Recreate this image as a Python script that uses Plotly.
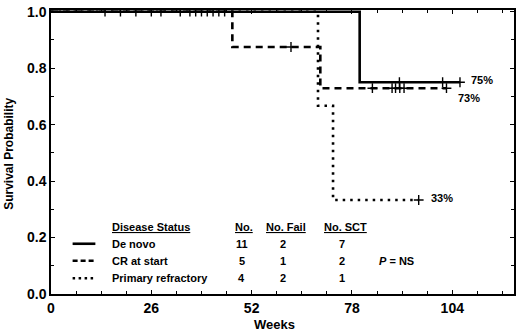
import numpy as np
import plotly.graph_objects as go

# ---- data ----
denovo_t = [0, 80, 106]
denovo_s = [1.0, 0.75, 0.75]
denovo_cens = [14, 18, 22, 26, 28.5, 33.5, 36, 37.5, 39, 40.5, 42, 43.5, 45, 90.3, 101.5, 106]

cr_t = [0, 47, 69.8, 102.5]
cr_s = [1.0, 0.875, 0.729, 0.729]
cr_cens = [62.2, 83.3, 88.4, 89.3, 90.4, 91.5, 102.5]

pr_t = [0, 69.2, 73.1, 95.3]
pr_s = [1.0, 0.667, 0.333, 0.333]
pr_cens = [95.3]

groups = ["De novo", "CR at start", "Primary refractory"]
n_pat = [11, 5, 4]
n_fail = [2, 1, 2]
n_sct = [7, 2, 1]
end_labels = ["75%", "73%", "33%"]

x_ticks = [0, 26, 52, 78, 104]
y_ticks = [0.0, 0.2, 0.4, 0.6, 0.8, 1.0]


def surv_at(ts, ss, c):
    i = np.searchsorted(np.array(ts), c, side="right") - 1
    return ss[max(i, 0)]


FONT = "Liberation Sans, Arial, sans-serif"
fig = go.Figure()

curves = [
    (denovo_t, denovo_s, denovo_cens, "solid"),
    (cr_t, cr_s, cr_cens, "7px,5px"),
    (pr_t, pr_s, pr_cens, "2.5px,5px"),
]
for ts, ss, cens, dash in curves:
    fig.add_trace(go.Scatter(x=ts, y=ss, mode="lines", line_shape="hv",
                             line=dict(color="black", width=2.6, dash=dash),
                             showlegend=False, hoverinfo="skip"))
    fig.add_trace(go.Scatter(x=cens, y=[surv_at(ts, ss, c) for c in cens], mode="markers",
                             marker=dict(symbol="cross-thin", size=7,
                                         line=dict(color="black", width=1.4)),
                             showlegend=False, hoverinfo="skip"))

# end percentages
end_pos = [(111.8, 0.757), (108.4, 0.695), (101.4, 0.339)]
for lab, (lx, ly) in zip(end_labels, end_pos):
    fig.add_annotation(x=lx, y=ly, text="<b>%s</b>" % lab, showarrow=False,
                       font=dict(family=FONT, size=11, color="black"), xanchor="center")

# legend table
row_y = [0.178, 0.118, 0.056]
head_y = 0.238
tf = dict(family=FONT, size=11, color="black")
fig.add_annotation(x=15.2, y=head_y, text="<b><u>Disease Status</u></b>", showarrow=False,
                   xanchor="left", font=tf)
fig.add_annotation(x=50.0, y=head_y, text="<b><u>No.</u></b>", showarrow=False, font=tf)
fig.add_annotation(x=61.0, y=head_y, text="<b><u>No. Fail</u></b>", showarrow=False, font=tf)
fig.add_annotation(x=76.2, y=head_y, text="<b><u>No. SCT</u></b>", showarrow=False, font=tf)
dashes = ["solid", "5px,3px", "2.5px,3.5px"]
for g, n, f, s, yy, d in zip(groups, n_pat, n_fail, n_sct, row_y, dashes):
    fig.add_trace(go.Scatter(x=[5.6, 11.5], y=[yy, yy], mode="lines",
                             line=dict(color="black", width=2.6, dash=d),
                             showlegend=False, hoverinfo="skip"))
    fig.add_annotation(x=15.2, y=yy, text="<b>%s</b>" % g, showarrow=False,
                       xanchor="left", font=tf)
    fig.add_annotation(x=49.4, y=yy, text="<b>%d</b>" % n, showarrow=False, font=tf)
    fig.add_annotation(x=60.0, y=yy, text="<b>%d</b>" % f, showarrow=False, font=tf)
    fig.add_annotation(x=75.3, y=yy, text="<b>%d</b>" % s, showarrow=False, font=tf)
fig.add_annotation(x=84.5, y=row_y[1], text="<b><i>P</i> = NS</b>", showarrow=False,
                   xanchor="left", font=tf)

# axis titles
fig.add_annotation(xref="paper", yref="paper", x=0.483, y=-0.106, yanchor="middle",
                   text="<b>Weeks</b>", showarrow=False,
                   font=dict(family=FONT, size=13, color="black"))
fig.add_annotation(xref="paper", yref="paper", x=-0.091, y=0.493, textangle=-90,
                   xanchor="center", yanchor="middle",
                   text="<b>Survival Probability</b>", showarrow=False,
                   font=dict(family=FONT, size=12, color="black"))

axis_common = dict(showgrid=False, zeroline=False, showline=True, linecolor="black",
                   linewidth=1.5, mirror="ticks", ticks="inside", ticklen=4,
                   tickcolor="black", tickwidth=1, ticklabeloverflow="allow",
                   tickfont=dict(family=FONT, size=14, color="black"))
fig.update_xaxes(range=[0, 120], tickvals=x_ticks,
                 ticktext=["<b>%d</b>" % v for v in x_ticks],
                 minor=dict(dtick=6.5, tick0=0, ticks="inside", ticklen=3,
                            tickcolor="black"),
                 **axis_common)
fig.update_yaxes(range=[0, 1.006], tickvals=y_ticks,
                 ticktext=["<b>%.1f</b>" % v for v in y_ticks],
                 minor=dict(dtick=0.1, tick0=0, ticks="inside", ticklen=3,
                            tickcolor="black"),
                 **axis_common)
fig.update_layout(width=520, height=336, margin=dict(l=51, r=4, t=4, b=42),
                  plot_bgcolor="white", paper_bgcolor="white", showlegend=False)

fig.write_html("out.html", config={"displayModeBar": False},
               post_script="document.body.style.margin='0';")
